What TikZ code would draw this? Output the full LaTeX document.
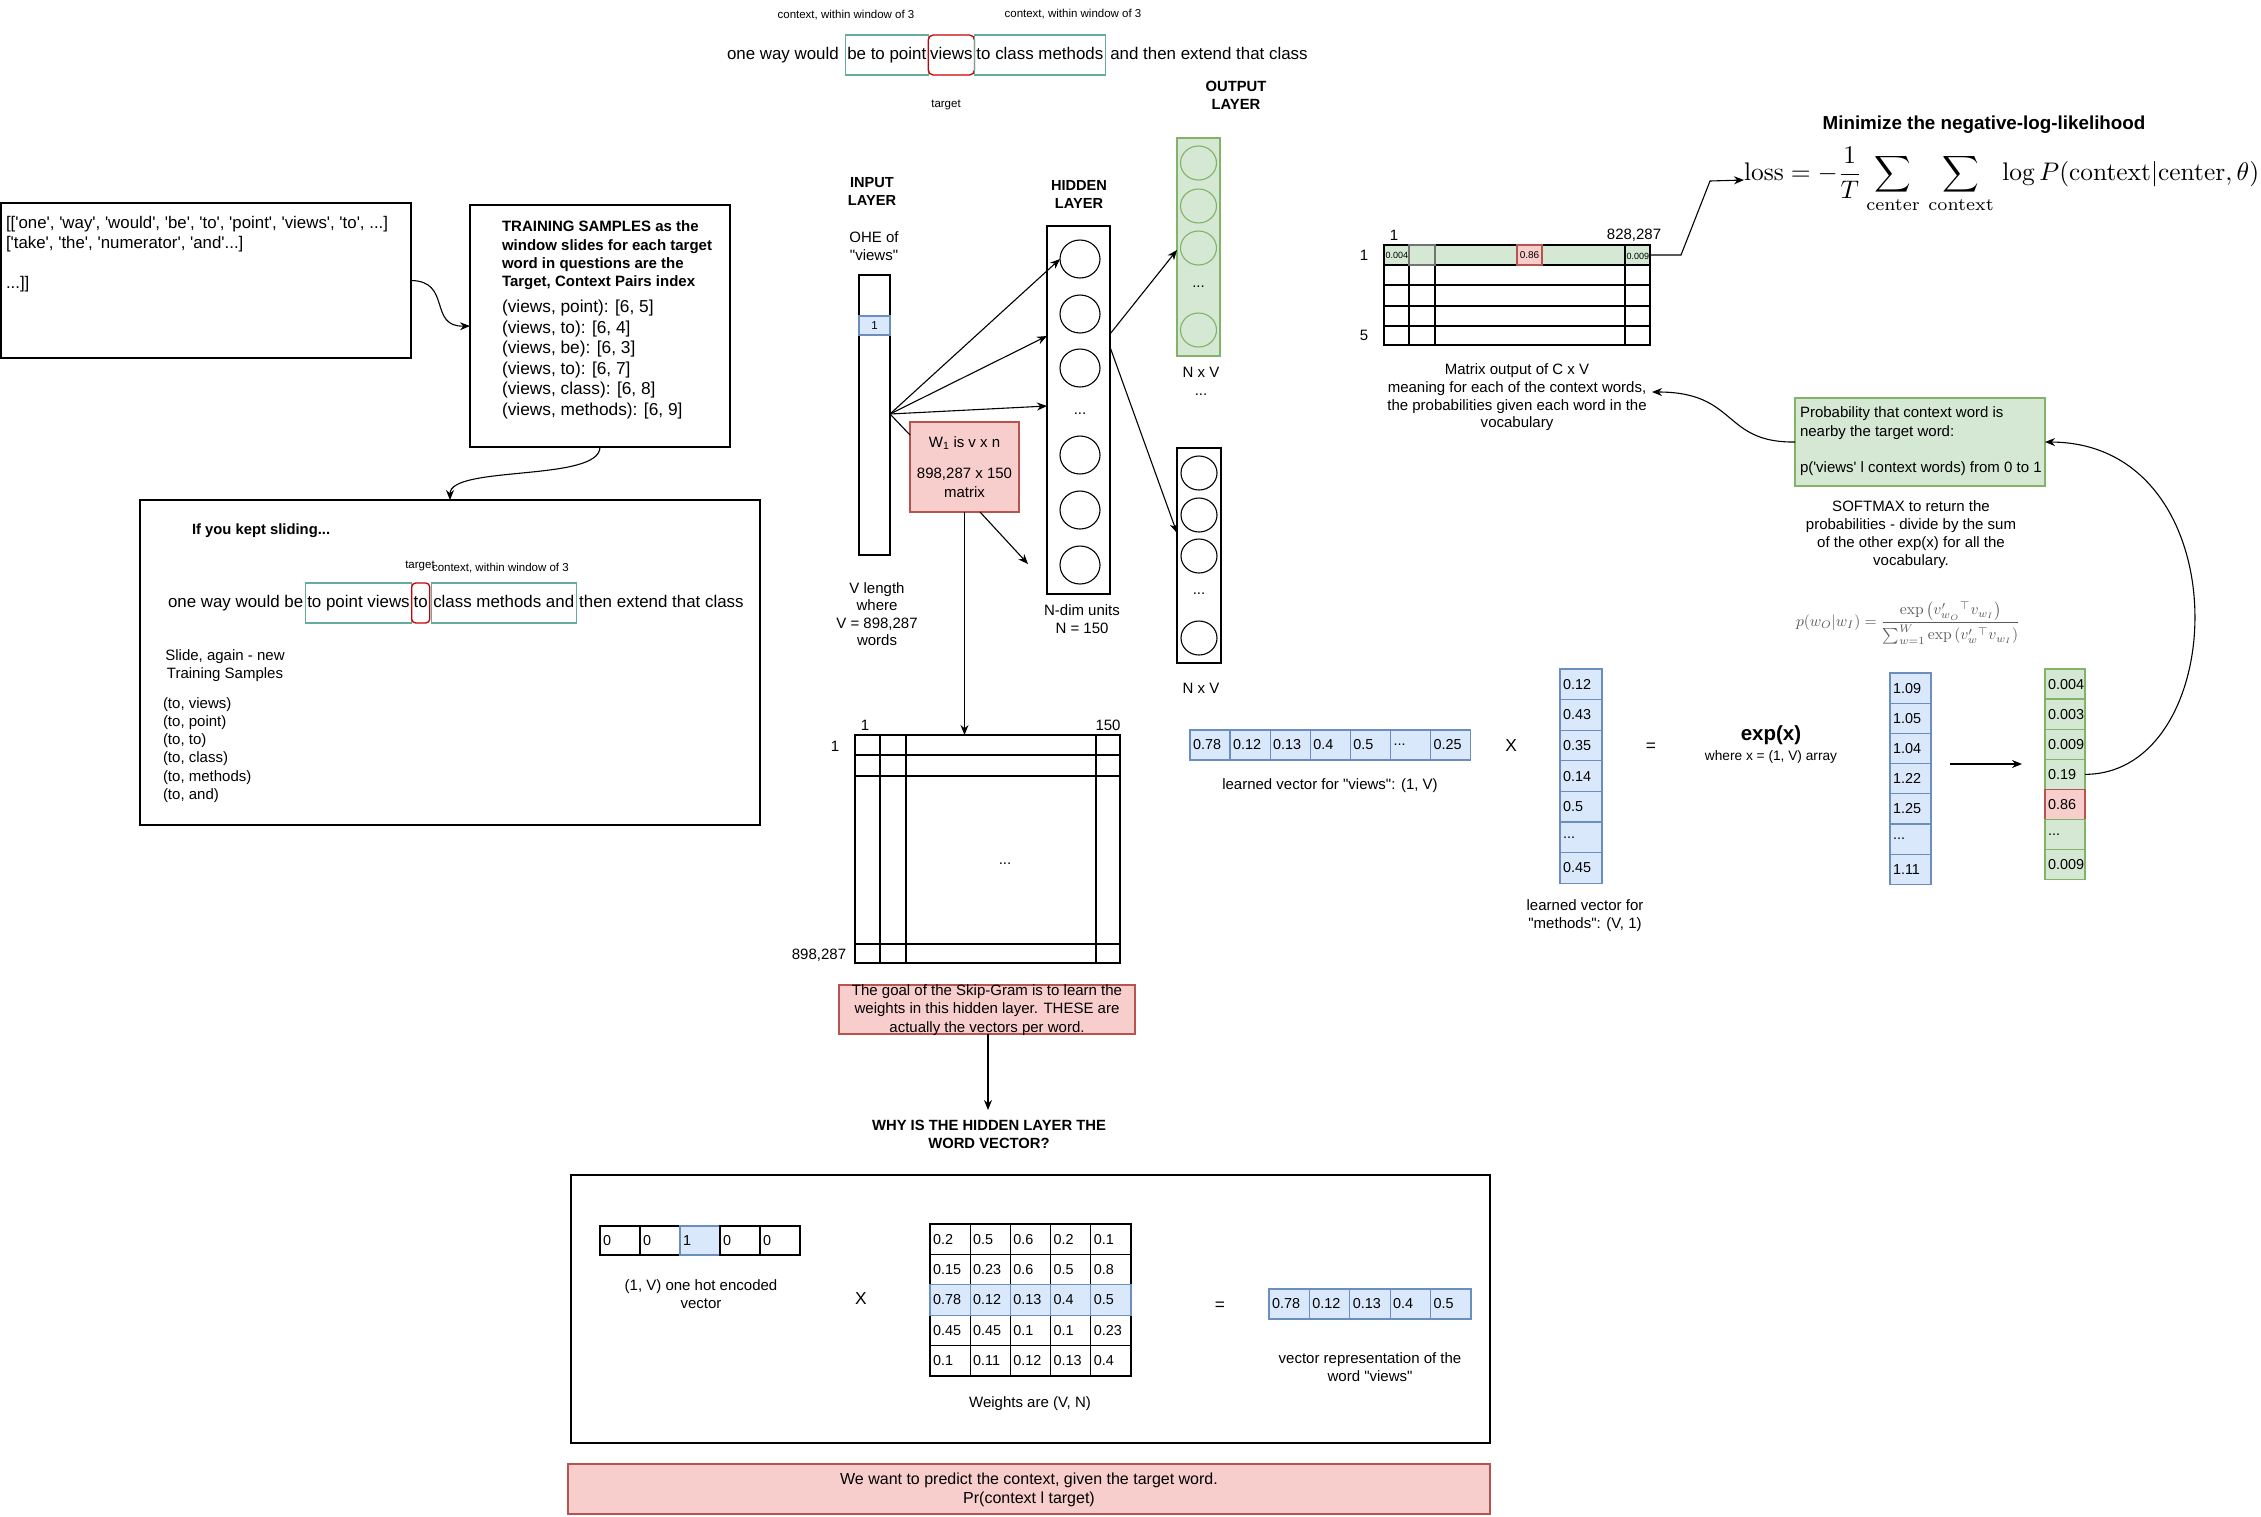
\documentclass[tikz,border=0pt]{standalone}
\usepackage[no-math]{fontspec}
\setmainfont{Liberation Sans}[Ligatures=TeXOff]
\usepackage{amsmath}
\usepackage{graphicx}
\usetikzlibrary{arrows.meta,shapes.geometric}
\definecolor{teal1}{HTML}{67AB9F}
\definecolor{redfill}{HTML}{F8CECC}
\definecolor{redline}{HTML}{B85450}
\definecolor{bluefill}{HTML}{DAE8FC}
\definecolor{blueline}{HTML}{6C8EBF}
\definecolor{greenfill}{HTML}{D5E8D4}
\definecolor{greenline}{HTML}{82B366}
\definecolor{tgtred}{HTML}{CC0000}
\newcommand\fsA{\fontsize{17.3}{20.5}\selectfont}
\newcommand\fsSen{\fontsize{16.9}{20}\selectfont}
\newcommand\fsB{\fontsize{15}{18.2}\selectfont}
\newcommand\fsC{\fontsize{14.4}{17}\selectfont}
\newcommand\fsS{\fontsize{11.5}{14}\selectfont}
\newcommand\ddd{...}
\begin{document}
\begin{tikzpicture}[x=1pt,y=-1pt,line width=1.3pt,
  every node/.style={inner sep=0pt,outer sep=0pt},
  txt/.style={align=center,font=\fsB},
  sw/.style={font=\fsSen,text height=12.5pt,text depth=3.6pt,inner xsep=2pt,minimum height=40pt,anchor=west},
  ctxbox/.style={sw,draw=teal1},
  tgtbox/.style={sw,draw=tgtred,rounded corners=5pt},
  plainbox/.style={draw,anchor=north west},
  arr/.style={-{Stealth[length=10pt,width=8pt]},line width=1.1pt},
  circ/.style={ellipse,draw,minimum width=40pt,minimum height=38pt,line width=1.1pt},
  gcirc/.style={ellipse,draw=greenline,minimum width=36pt,minimum height=34pt,line width=1.1pt},
  ocirc/.style={ellipse,draw,minimum width=36pt,minimum height=34pt,line width=1.1pt},
  cell/.style={draw,text width=#1,inner xsep=3pt,align=left,font=\fsC,anchor=north west},
  bcell/.style={cell=#1,fill=bluefill,draw=blueline},
  gcell/.style={cell=#1,fill=greenfill,draw=greenline},
  rcell/.style={cell=#1,fill=redfill,draw=redline},
]
\useasboundingbox (0,0) rectangle (2261,1516);
\fill[white] (0,0) rectangle (2261,1516);

% ---------- top sentence ----------
\node[sw] (s1) at (725,55) {one way would};
\node[ctxbox] (s2) at ([xshift=4.5pt]s1.east) {be to point};
\node[tgtbox] (s3) at (s2.east) {views};
\node[ctxbox] (s4) at (s3.east) {to class methods};
\node[sw] (s5) at ([xshift=3pt]s4.east) {and then extend that class};
\node[font=\fsS] (ctx1) at (846,15) {context, within window of 3};
\node[font=\fsS] (ctx2) at (1073,14) {context, within window of 3};
\node[font=\fsS] (tgt1) at (946,105) {target};

% ---------- box A ----------
\node[plainbox,minimum width=410pt,minimum height=155pt] (boxA) at (1,203) {};
\node[font=\fontsize{16.85}{20.2}\selectfont,align=left,anchor=west] (boxAt) at (6,254) {[['one', 'way', 'would', 'be', 'to', 'point', 'views', 'to', ...]\\{}['take', 'the', 'numerator', 'and'...]\\[20.2pt]...]]};

% ---------- box B ----------
\node[plainbox,minimum width=260pt,minimum height=242pt] (boxB) at (470,205) {};
\node[font=\bfseries\fontsize{15}{18.3}\selectfont,align=left,anchor=west] (boxBh) at (502,255.5) {TRAINING SAMPLES as the\\window slides for each target\\word in questions are the\\Target, Context Pairs index};
\node[font=\fsA,align=left,anchor=west] (boxBt) at (502,359.5) {(views, point): [6, 5]\\(views, to): [6, 4]\\(views, be): [6, 3]\\(views, to): [6, 7]\\(views, class): [6, 8]\\(views, methods): [6, 9]};
\draw[arr] (boxA.east) .. controls (452,281) and (428,327) .. (boxB.west);

% ---------- box C ----------
\node[plainbox,minimum width=620pt,minimum height=325pt] (boxC) at (140,500) {};
\draw[arr] (boxB.south) .. controls (600,482) and (450,465) .. (boxC.north);
\node[font=\bfseries\fontsize{14.8}{18}\selectfont,anchor=west] (slid) at (192,531) {If you kept sliding...};
\node[sw] (c1) at (166,603) {one way would be};
\node[ctxbox] (c2) at (c1.east) {to point views};
\node[tgtbox,rounded corners=4pt] (c3) at (c2.east) {to};
\node[ctxbox] (c4) at ([xshift=1.5pt]c3.east) {class methods and};
\node[sw] (c5) at ([xshift=1pt]c4.east) {then extend that class};
\node[font=\fsS] (tgt2) at (420,566) {target};
\node[font=\fsS,anchor=west] (ctx3) at (432,568) {context, within window of 3};
\node[txt] (slide2) at (225,666) {Slide, again - new\\Training Samples};
\node[font=\fsB,align=left,anchor=west] (tolist) at (163,750) {(to, views)\\(to, point)\\(to, to)\\(to, class)\\(to, methods)\\(to, and)};

% ---------- network ----------
\node[font=\bfseries\fontsize{14.6}{17.5}\selectfont,align=center] (inlab) at (872,191.5) {INPUT\\LAYER};
\node[txt] (ohe) at (874,246) {OHE of\\"views"};
\node[plainbox,minimum width=31pt,minimum height=280pt] (inbar) at (859,275) {};
\node[plainbox,fill=bluefill,draw=blueline,minimum width=31pt,minimum height=19pt,font=\fsS] (one) at (859,316) {1};
\node[txt,font=\fontsize{15}{17.5}\selectfont] (vlen) at (877,614) {V length\\where\\V = 898,287\\words};

\node[font=\bfseries\fontsize{14.6}{17.5}\selectfont,align=center] (hidlab) at (1079,194.5) {HIDDEN\\LAYER};
\node[plainbox,minimum width=63pt,minimum height=368pt] (hbox) at (1047,226) {};
\node[circ] (h1) at (1080,259) {};
\node[circ] (h2) at (1080,314) {};
\node[circ] (h3) at (1080,368) {};
\node[font=\fsB] (hdots) at (1080,414) {...};
\node[circ] (h4) at (1080,455) {};
\node[circ] (h5) at (1080,510) {};
\node[circ] (h6) at (1080,565) {};
\node[txt] (ndim) at (1082,619.5) {N-dim units\\N = 150};

\node[plainbox,fill=redfill,draw=redline,minimum width=109pt,minimum height=90pt] (w1box) at (910,422) {};
\node[txt,font=\fontsize{15}{19}\selectfont] (w1t) at (964.5,467) {W\textsubscript{1} is v x n\\[12pt]898,287 x 150\\matrix};

\coordinate (src) at (890,414);
\coordinate (hin2) at (1047,336);
\coordinate (hin3) at (1047,406);
\coordinate (w1c) at (910,435);
\draw[arr] (src) -- (h1.west);
\draw[arr] (src) -- (hin2);
\draw[arr] (src) -- (hin3);
\draw[line width=1.1pt] (src) -- (w1c);
\coordinate (w1o) at (980,512);
\coordinate (w1e) at (1028,564);
\draw[arr] (w1o) -- (w1e);

\node[font=\bfseries\fontsize{14.8}{17.5}\selectfont,align=center] (outlab) at (1236,95.5) {OUTPUT\\LAYER};
\node[plainbox,fill=greenfill,draw=greenline,minimum width=43pt,minimum height=218pt] (gbar) at (1177,138) {};
\node[gcirc] (g1) at (1198.5,163) {};
\node[gcirc] (g2) at (1198.5,206) {};
\node[gcirc] (g3) at (1198.5,248) {};
\node[font=\fsB] (gdots) at (1198.5,287) {...};
\node[gcirc] (g4) at (1198.5,330) {};
\node[txt] (nxv1) at (1201,381) {N x V\\...};
\node[plainbox,minimum width=44pt,minimum height=215pt] (obar) at (1177,448) {};
\node[ocirc] (o1) at (1199,473) {};
\node[ocirc] (o2) at (1199,515) {};
\node[ocirc] (o3) at (1199,556) {};
\node[font=\fsB] (odots) at (1199,594) {...};
\node[ocirc] (o4) at (1199,638) {};
\node[txt] (nxv2) at (1201,688) {N x V};
\coordinate (hout1) at (1110,334);
\coordinate (hout2) at (1110,347);
\coordinate (gin) at (1177,250);
\coordinate (oin) at (1177,533);
\draw[arr] (hout1) -- (gin);
\draw[arr] (hout2) -- (oin);

% ---------- W matrix ----------
\node[plainbox,minimum width=265pt,minimum height=228pt] (Wmat) at (855,735) {};
\draw (880,735) -- (880,963) (906,735) -- (906,963) (1096,735) -- (1096,963);
\draw (855,755) -- (1120,755) (855,776) -- (1120,776) (855,944) -- (1120,944);
\node[font=\fsB] (Wc1) at (865,725) {1};
\node[font=\fsB] (Wc2) at (1108,725) {150};
\node[font=\fsB] (Wr1) at (835,746) {1};
\node[font=\fsB] (Wr2) at (819,955) {898,287};
\node[font=\fsB] (Wdots) at (1005,864) {...};
\draw[arr] (w1box.south) -- (w1box.south |- Wmat.north);

\node[plainbox,fill=redfill,draw=redline,minimum width=296pt,minimum height=49pt] (note) at (839,985) {};
\node[txt] (notet) at (987,1010) {The goal of the Skip-Gram is to learn the\\weights in this hidden layer. THESE are\\actually the vectors per word.};
\coordinate (whyin) at (988,1110);
\draw[arr] (note.south -| whyin) -- (whyin);
\node[font=\bfseries\fontsize{14.8}{18.5}\selectfont,align=center] (why) at (989,1134.5) {WHY IS THE HIDDEN LAYER THE\\WORD VECTOR?};

% ---------- bottom box ----------
\node[plainbox,minimum width=919pt,minimum height=268pt] (boxD) at (571,1175) {};
\foreach \v [count=\i from 0] in {0,0,1,0,0}{
  \ifnum\i=2
    \node[bcell=34pt,minimum height=29pt] (oh\i) at (600+\i*40,1226) {\v};
  \else
    \node[cell=34pt,minimum height=29pt] (oh\i) at (600+\i*40,1226) {\v};
  \fi
}
\node[txt] (ohl) at (701,1294.5) {(1, V) one hot encoded\\vector};
\node[font=\fsA] (xD) at (861,1299) {X};
\foreach \r/\vals in {0/{0.2,0.5,0.6,0.2,0.1},1/{0.15,0.23,0.6,0.5,0.8},3/{0.45,0.45,0.1,0.1,0.23},4/{0.1,0.11,0.12,0.13,0.4}}{
  \foreach \v [count=\c from 0] in \vals{
    \node[cell=34.2pt,minimum height=30.4pt] (w-\r-\c) at (930+\c*40.2,1224+\r*30.4) {\v};
  }
}
\foreach \v [count=\c from 0] in {0.78,0.12,0.13,0.4,0.5}{
  \node[bcell=34.2pt,minimum height=30.4pt] (w-2-\c) at (930+\c*40.2,1224+2*30.4) {\v};
}
\node[txt] (wlab) at (1030,1404) {Weights are (V, N)};
\node[font=\fsA] (eqD) at (1220,1306) {=};
\foreach \v [count=\c from 0] in {0.78,0.12,0.13,0.4,0.5}{
  \node[bcell=34.4pt,minimum height=30pt] (r-\c) at (1269+\c*40.4,1289) {\v};
}
\node[txt] (rlab) at (1370,1367.5) {vector representation of the\\word "views"};
\node[plainbox,fill=redfill,draw=redline,minimum width=922pt,minimum height=50pt] (goal) at (568,1464) {};
\node[txt,font=\fontsize{16}{19}\selectfont] (goalt) at (1029,1490) {We want to predict the context, given the target word.\\Pr(context l target)};

% ---------- right side ----------
\foreach \v [count=\c from 0] in {0.78,0.12,0.13,0.4,0.5,\ddd,0.25}{
  \node[bcell=34.1pt,minimum height=30pt] (lv-\c) at (1190+\c*40.1,730) {\v};
}
\node[txt] (lvlab) at (1330,786) {learned vector for "views": (1, V)};
\node[font=\fsA] (xR) at (1511,746) {X};
\foreach \v [count=\c from 0] in {0.12,0.43,0.35,0.14,0.5,\ddd,0.45}{
  \node[bcell=36pt,minimum height=30.6pt] (mv-\c) at (1560,669+\c*30.6) {\v};
}
\node[txt] (mvlab) at (1585,916) {learned vector for\\"methods": (V, 1)};
\node[font=\fsA] (eqR) at (1651,747) {=};
\node[font=\bfseries\fontsize{20.5}{24}\selectfont] (expx) at (1771,735) {exp(x)};
\node[font=\fontsize{13.7}{16}\selectfont] (expw) at (1771,757) {where x = (1, V) array};
\foreach \v [count=\c from 0] in {1.09,1.05,1.04,1.22,1.25,\ddd,1.11}{
  \node[bcell=35pt,minimum height=30.2pt] (ev-\c) at (1890,673+\c*30.2) {\v};
}
\coordinate (ea1) at (1950,764);
\coordinate (ea2) at (2022,764);
\draw[arr] (ea1) -- (ea2);
\foreach \v [count=\c from 0] in {0.004,0.003,0.009,0.19,0.86,\ddd,0.009}{
  \ifnum\c=4
    \node[rcell=34pt,minimum height=30.1pt] (gv-\c) at (2045,669+\c*30.1) {\v};
  \else
    \node[gcell=34pt,minimum height=30.1pt] (gv-\c) at (2045,669+\c*30.1) {\v};
  \fi
}

\node[plainbox,fill=greenfill,draw=greenline,minimum width=250pt,minimum height=88pt] (prob) at (1795,398) {};
\node[font=\fontsize{15}{18.5}\selectfont,align=left,anchor=west] (probt) at (1800,441.5) {Probability that context word is\\nearby the target word:\\[18pt]p('views' l context words) from 0 to 1};
\draw[arr] (gv-3.east) .. controls (2232,774) and (2242,443) .. (prob.east);

\node[txt,font=\fontsize{15}{18}\selectfont] (soft) at (1911,535) {SOFTMAX to return the\\probabilities - divide by the sum\\of the other exp(x) for all the\\vocabulary.};
\node[text=black!65] (softf) at (1908,623) {\resizebox{224pt}{!}{$p(w_O|w_I)=\dfrac{\exp\left(v'_{w_O}{}^{\top}v_{w_I}\right)}{\sum_{w=1}^{W}\exp\left(v'_{w}{}^{\top}v_{w_I}\right)}$}};

% C x V matrix
\fill[greenfill] (1384,245) rectangle (1650,265);
\node[plainbox,minimum width=266pt,minimum height=100pt] (cmat) at (1384,245) {};
\draw (1409,245) -- (1409,345) (1435,245) -- (1435,345) (1625,245) -- (1625,345);
\draw (1384,265) -- (1650,265) (1384,285) -- (1650,285) (1384,306) -- (1650,306) (1384,326) -- (1650,326);
\draw[black!55] (1409,245) rectangle (1435,265);
\node[plainbox,fill=redfill,draw=redline,minimum width=25pt,minimum height=20pt,font=\fontsize{10}{12}\selectfont] (c86) at (1517,245) {0.86};
\node[font=\fontsize{9}{11}\selectfont,anchor=west] (c004) at (1385.5,255) {0.004};
\node[font=\fontsize{9}{11}\selectfont,anchor=west] (c009) at (1626.5,256) {0.009};
\node[font=\fsB] (cc1) at (1394,235) {1};
\node[font=\fsB] (cc2) at (1634,235) {828,287};
\node[font=\fsB] (cr1) at (1364,255) {1};
\node[font=\fsB] (cr5) at (1364,335) {5};
\node[txt,font=\fontsize{15}{17.7}\selectfont] (mtxt) at (1517,397.5) {Matrix output of C x V\\meaning for each of the context words,\\the probabilities given each word in the\\vocabulary};
\coordinate (mtxtR) at (1652,392);
\draw[arr] (prob.west) .. controls (1722,443) and (1738,392) .. (mtxtR);

\node[font=\bfseries\fontsize{18.8}{22}\selectfont] (minim) at (1984,125) {Minimize the negative-log-likelihood};
\node[anchor=west] (loss) at (1744,180) {\resizebox{515pt}{!}{$\displaystyle \mathrm{loss}=-\frac{1}{T}\sum_{\mathrm{center}}\,\sum_{\mathrm{context}}\,\log P(\mathrm{context}|\mathrm{center},\theta)$}};
\coordinate (c1out) at (1650,255);
\draw[arr] (c1out) -- ++(31,0) -- ++(29,-74) -- (loss.west);
\end{tikzpicture}
\end{document}
